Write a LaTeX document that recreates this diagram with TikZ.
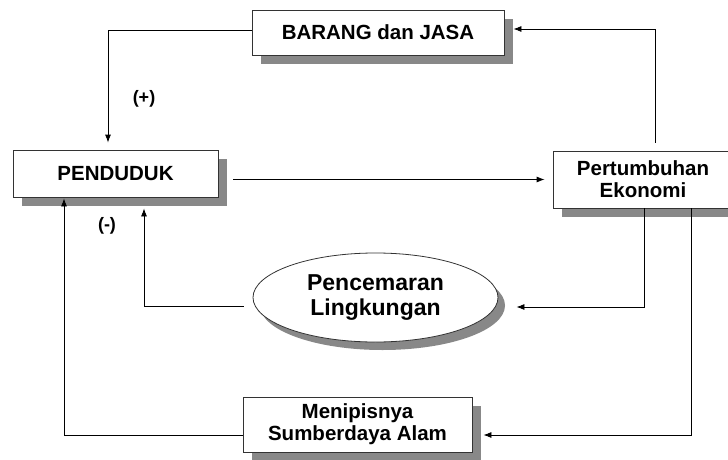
\documentclass[tikz,border=0pt]{standalone}
\usepackage{fontspec}
\setmainfont{Liberation Sans}
\usetikzlibrary{arrows.meta,shadows,calc,shapes.geometric}
\definecolor{shadowgray}{HTML}{888888}
\tikzset{
  boxnode/.style={draw=black!80, line width=0.8pt, fill=white, inner sep=0pt, align=center,
    font=\bfseries\fontsize{20.5}{22}\selectfont,
    drop shadow={shadow xshift=9pt, shadow yshift=-9pt, fill=shadowgray, opacity=1}},
  ellnode/.style={ellipse, draw=black!80, line width=0.8pt, fill=white, inner sep=0pt, align=center,
    font=\bfseries\fontsize{23}{25}\selectfont,
    drop shadow={shadow xshift=7pt, shadow yshift=-8pt, fill=shadowgray, opacity=1}},
  arr/.style={line width=0.8pt, -{Latex[length=8pt,width=6pt]}},
  lbl/.style={font=\bfseries\fontsize{18}{20}\selectfont, inner sep=0pt}
}
\begin{document}
\begin{tikzpicture}[x=1pt, y=-1pt]
\useasboundingbox (0,0) rectangle (728,460);
\node[boxnode, minimum width=252pt, minimum height=45pt] (barang) at (378,32.5) {BARANG dan JASA};
\node[boxnode, minimum width=205pt, minimum height=47pt] (pend) at (115.5,173.5) {PENDUDUK};
\node[boxnode, minimum width=180pt, minimum height=57pt] (pert) at (643,179.5) {Pertumbuhan\\Ekonomi};
\node[ellnode, minimum width=245pt, minimum height=89pt] (ell) at (375.5,297.5) {Pencemaran\\Lingkungan};
\node[boxnode, minimum width=229pt, minimum height=55pt] (menip) at (357.5,424.5) {Menipisnya\\Sumberdaya Alam};
\node[lbl] (plus) at (144,99) {(+)};
\node[lbl] (minus) at (107,226) {(-)};
% connectors
\draw[arr] ($(barang.west)+(0,-2.5)$) -| ($(pend.north)+(-7.5,-7)$);
\draw[arr] ($(pert.north)+(12,-8)$) |- ($(barang.east)+(9,-3.5)$);
\draw[arr] ($(pend.east |- pert.west)+(15,0)$) -- ($(pert.west)+(-8,0)$);
\draw[arr] ($(pert.south)+(1,0)$) |- ($(ell.east)+(18,9.5)$);
\draw[arr] ($(ell.west)+(-9,8.5)$) -| ($(pend.south)+(28.5,11)$);
\draw[arr] ($(pert.south)+(48,0)$) |- ($(menip.east)+(11,10.5)$);
\draw[arr] ($(menip.west)+(0,10.5)$) -| ($(pend.south)+(-51.5,1)$);
\end{tikzpicture}
\end{document}
